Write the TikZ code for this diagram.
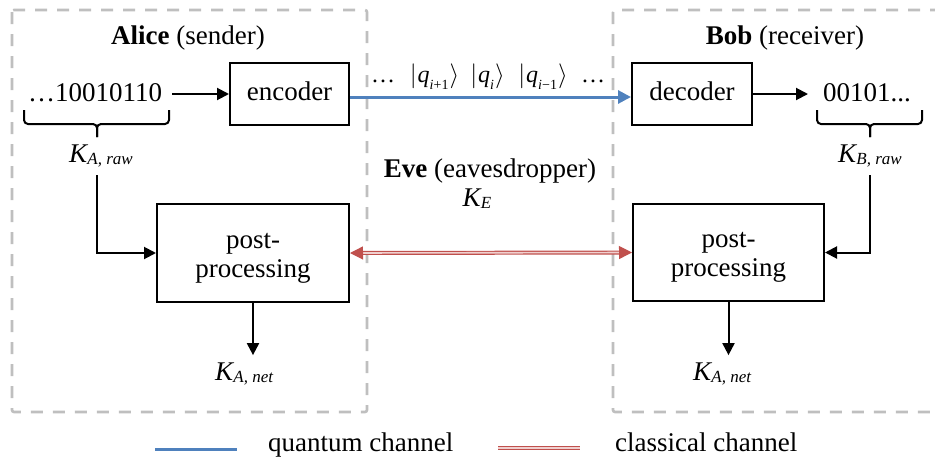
\documentclass[tikz,border=0pt]{standalone}
\usepackage{fontspec}
\setmainfont{Liberation Serif}
\usetikzlibrary{arrows.meta,calc}

\definecolor{framegray}{HTML}{BFBFBF}
\definecolor{qblue}{HTML}{4F81BD}
\definecolor{cred}{HTML}{C0504D}
\definecolor{cpink}{HTML}{F0D0CF}

% key symbol K with a slightly lowered italic subscript
\newcommand{\keysym}[1]{\textit{K}\kern-1pt\raisebox{-0.09em}{\fontsize{17}{17}\selectfont\textit{#1}}}
% quantum state |q_x>
\newcommand{\qket}[1]{$|$\kern1pt\textit{q}\raisebox{-0.3em}{\fontsize{14}{14}\selectfont #1}\kern1pt$\rangle$}

\tikzset{
  lbl/.style={inner sep=0pt, font=\fontsize{27}{32}\selectfont},
  qlbl/.style={inner sep=0pt, font=\fontsize{24}{28}\selectfont},
  blockbox/.style={draw, line width=2pt, align=center, inner sep=0pt,
                   font=\fontsize{27}{29}\selectfont},
  arr/.style={line width=2pt, -{Triangle[length=12pt,width=12pt]}},
  frame/.style={draw=framegray, line width=2.6pt, dash pattern=on 12pt off 10pt,
                rounded corners=2pt},
  quantum/.style={draw=qblue, line width=3pt},
  classical/.style={draw=cred, double=cpink, line width=1.2pt, double distance=1.6pt},
  bracepath/.style={line width=2pt, rounded corners=4pt},
}

\begin{document}
\begin{tikzpicture}[x=1pt, y=-1pt]
\useasboundingbox (0,0) rectangle (935,456);
\clip (0,0) rectangle (935,456);

% party frames
\draw[frame] (12,10) rectangle (367,412);
\draw[frame] (613,10) rectangle (950,412);

% titles
\node[lbl, anchor=base] (alice) at (188,44) {\textbf{Alice} (sender)};
\node[lbl, anchor=base] (bob) at (785,44) {\textbf{Bob} (receiver)};
\node[lbl, anchor=base] (eve) at (490,177) {\textbf{Eve} (eavesdropper)};
\node[lbl, anchor=base] (ke) at (477,206) {\keysym{E}};

% bit strings
\node[lbl, anchor=base west] (bitsA) at (28,101) {…10010110};
\node[lbl, anchor=base west] (bitsB) at (823,101) {00101...};

% processing blocks
\node[blockbox, minimum width=119pt, minimum height=62pt,
      text height=21pt, text depth=9pt] (enc) at (289.5,94) {encoder};
\node[blockbox, minimum width=120pt, minimum height=62pt,
      text height=21pt, text depth=9pt] (dec) at (692,94) {decoder};
\node[blockbox, minimum width=192pt, minimum height=98pt,
      text height=54pt, text depth=6pt] (postA) at (253,253) {post-\\processing};
\node[blockbox, minimum width=191pt, minimum height=97pt,
      text height=54pt, text depth=6pt] (postB) at (728.5,252.5) {post-\\processing};

% sequence of quantum states
\node[qlbl, anchor=base] (dotsL) at (383,82) {…};
\node[qlbl, anchor=base] (q1) at (434.5,82) {\qket{\textit{i}+1}};
\node[qlbl, anchor=base] (q2) at (487.5,82) {\qket{\textit{i}}};
\node[qlbl, anchor=base] (q3) at (543,82) {\qket{\textit{i}−1}};
\node[qlbl, anchor=base] (dotsR) at (593,82) {…};

% raw keys
\node[lbl, anchor=base west] (KAraw) at (69,162) {\keysym{A, raw}};
\node[lbl, anchor=base west] (KBraw) at (838,162) {\keysym{B, raw}};
% net keys
\node[lbl, anchor=base west] (KAnet) at (215,380) {\keysym{A, net}};
\node[lbl, anchor=base west] (KBnet) at (693,380) {\keysym{A, net}};

% braces under the bit strings
\coordinate (tipA) at (97,137);
\coordinate (tipB) at (870,137);
\draw[bracepath] (24,110) |- (97,124) -- (tipA);
\draw[bracepath] (169,110) |- (97,124) -- (tipA);
\draw[bracepath] (817,110) |- (870,124) -- (tipB);
\draw[bracepath] (922,110) |- (870,124) -- (tipB);

% data flow
\draw[arr, shorten <=10pt] (bitsA.east |- enc.west) -- (enc.west);
\draw[arr, shorten >=15pt] (dec.east) -- (dec.east -| bitsB.west);
\draw[quantum, -{Triangle[length=13pt,width=13pt]}]
  ($(enc.east)+(0,3)$) -- ($(dec.west)+(0,3)$);
\draw[classical, {Triangle[length=13pt,width=13pt]}-{Triangle[length=13pt,width=13pt]}]
  (postA.east) -- (postB.west);
\draw[arr] ($(tipA |- KAraw.south)+(0,8)$) |- (postA.west);
\draw[arr] ($(tipB |- KBraw.south)+(0,8)$) |- (postB.east);
\draw[arr, shorten >=7pt] (postA.south) -- (postA.south |- KAnet.north);
\draw[arr, shorten >=7pt] (postB.south) -- (postB.south |- KBnet.north);

% legend
\coordinate (qa) at (155,449);
\coordinate (qb) at (237,449);
\draw[quantum] (qa) -- (qb);
\node[lbl, anchor=base west] (qlabel) at (268,451) {quantum channel};
\coordinate (ca) at (498,448);
\coordinate (cb) at (580,448);
\draw[classical] (ca) -- (cb);
\node[lbl, anchor=base west] (clabel) at (615,451) {classical channel};
\end{tikzpicture}
\end{document}
